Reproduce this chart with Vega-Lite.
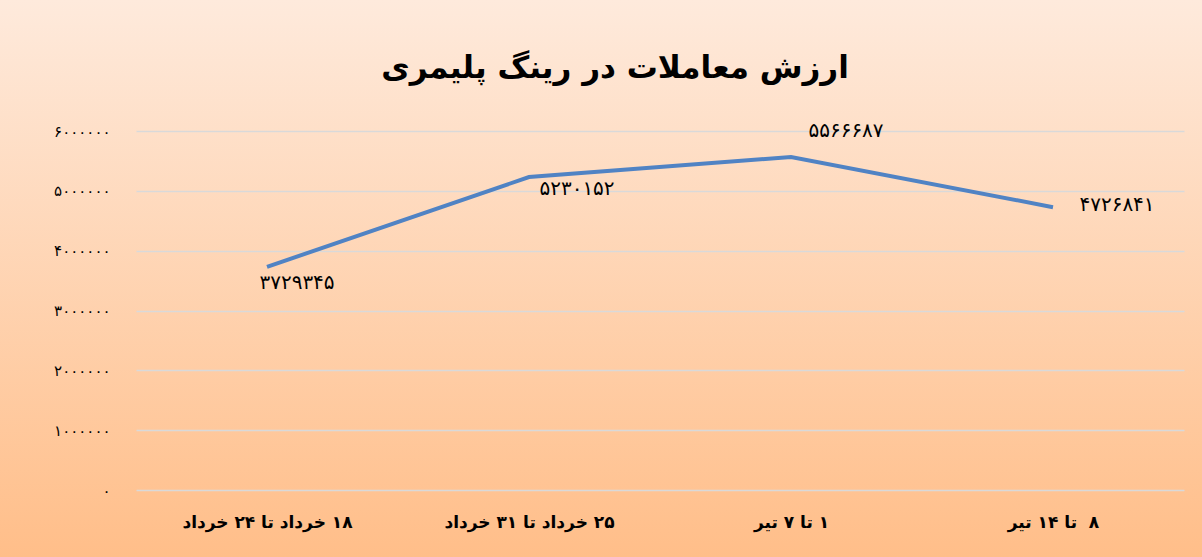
{
  "$schema": "https://vega.github.io/schema/vega-lite/v6.json",
  "width": 1202,
  "height": 557,
  "autosize": "none",
  "padding": 0,
  "background": "#FFD9B8",
  "config": {
    "view": {
      "stroke": null,
      "fill": {"gradient": "linear", "x1": 0, "y1": 0, "x2": 0, "y2": 1,
        "stops": [{"offset": 0, "color": "#FEEADC"}, {"offset": 1, "color": "#FFBE89"}]}
    },
    "font": "DejaVu Sans"
  },
  "title": {
    "text": "ارزش معاملات در رینگ پلیمری",
    "anchor": "middle",
    "frame": "group",
    "fontSize": 31,
    "fontWeight": "bold",
    "font": "DejaVu Sans",
    "color": "#000000",
    "baseline": "alphabetic",
    "offset": -109,
    "dx": 14
  },
  "datasets": {
    "main": [
      {"period": "\u200f۱۸ خرداد تا ۲۴ خرداد\u200f", "value": 3729345, "label": "۳۷۲۹۳۴۵"},
      {"period": "\u200f۲۵ خرداد تا ۳۱ خرداد\u200f", "value": 5230152, "label": "۵۲۳۰۱۵۲"},
      {"period": "\u200f۱ تا ۷ تیر\u200f", "value": 5566687, "label": "۵۵۶۶۶۸۷"},
      {"period": "\u200f۸\u00a0 تا ۱۴ تیر\u200f", "value": 4726841, "label": "۴۷۲۶۸۴۱"}
    ]
  },
  "data": {"name": "main"},
  "encoding": {
    "x": {
      "field": "period", "type": "nominal", "sort": null,
      "scale": {"range": [136, 1184], "paddingInner": 0, "paddingOuter": 0},
      "axis": {
        "title": null, "orient": "bottom", "offset": -67, "domain": false, "ticks": false,
        "labelAngle": 0, "labelPadding": 24, "labelFontSize": 17, "labelFontWeight": "bold",
        "labelColor": "#000000", "labelFont": "DejaVu Sans", "labelBaseline": "top"
      }
    },
    "y": {
      "field": "value", "type": "quantitative",
      "scale": {"domain": [0, 6000000], "range": [490, 131], "nice": false, "zero": true},
      "axis": {
        "title": null, "offset": -135, "domain": false, "ticks": false,
        "values": [0, 1000000, 2000000, 3000000, 4000000, 5000000, 6000000],
        "labelExpr": "datum.value == 0 ? '۰' : ['۰','۱','۲','۳','۴','۵','۶'][round(datum.value/1000000)] + '۰۰۰۰۰۰'",
        "labelPadding": 25, "labelFontSize": 15, "labelColor": "#000000", "labelFont": "DejaVu Sans",
        "grid": true, "gridColor": "#D9D9D9", "gridWidth": 1.6
      }
    }
  },
  "layer": [
    {"mark": {"type": "line", "color": "#5083C4", "strokeWidth": 4}},
    {"transform": [{"filter": "datum.value == 3729345"}],
     "mark": {"type": "text", "align": "center", "baseline": "middle", "dx": 30, "dy": 16, "fontSize": 20, "color": "#000000"},
     "encoding": {"text": {"field": "label"}}},
    {"transform": [{"filter": "datum.value == 5230152"}],
     "mark": {"type": "text", "align": "center", "baseline": "middle", "dx": 48, "dy": 12, "fontSize": 20, "color": "#000000"},
     "encoding": {"text": {"field": "label"}}},
    {"transform": [{"filter": "datum.value == 5566687"}],
     "mark": {"type": "text", "align": "center", "baseline": "middle", "dx": 55, "dy": -26, "fontSize": 20, "color": "#000000"},
     "encoding": {"text": {"field": "label"}}},
    {"transform": [{"filter": "datum.value == 4726841"}],
     "mark": {"type": "text", "align": "center", "baseline": "middle", "dx": 64, "dy": -2, "fontSize": 20, "color": "#000000"},
     "encoding": {"text": {"field": "label"}}}
  ]
}
